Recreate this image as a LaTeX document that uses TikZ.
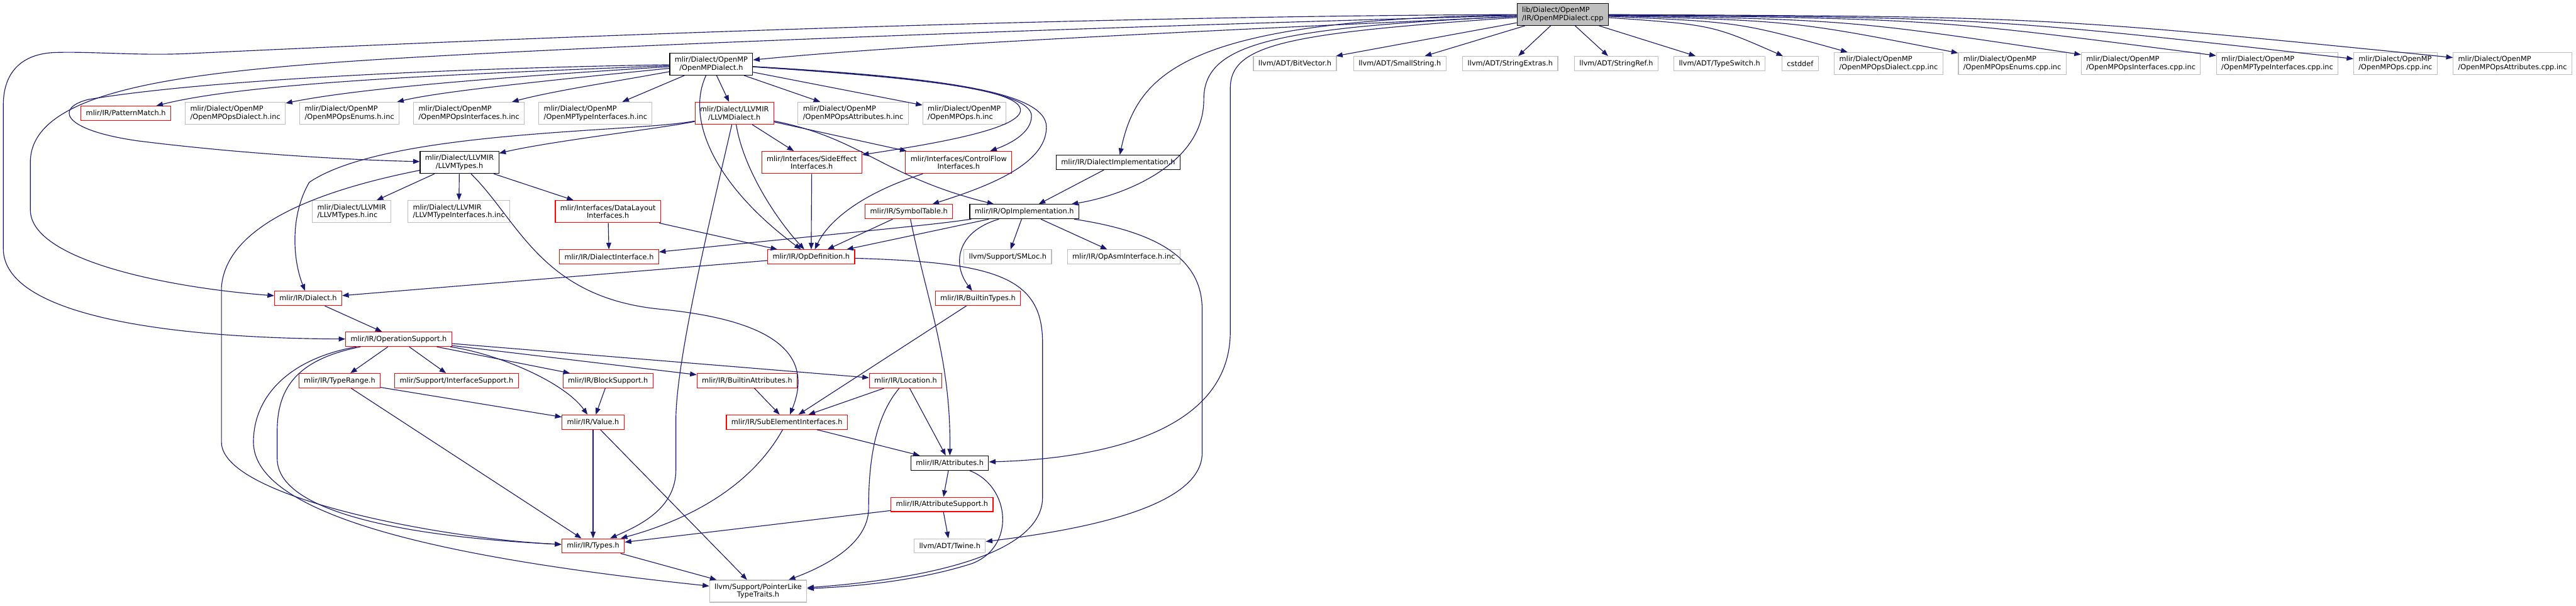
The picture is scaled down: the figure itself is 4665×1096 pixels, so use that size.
\documentclass[tikz,border=0pt]{standalone}
\usepackage{fontspec}
\newfontfamily\doxfont{DejaVu Sans}
\usetikzlibrary{arrows.meta, positioning}
\definecolor{edgeblue}{HTML}{191970}
\definecolor{extgray}{HTML}{BFBFBF}
\tikzset{
  hdr/.style={draw, fill=white, line width=1.3pt, inner xsep=9pt, inner ysep=0pt,
    minimum height=26pt, align=center, font={\doxfont\fontsize{12.9}{14.5}\selectfont}},
  tall/.style={minimum height=40pt},
  doc/.style={hdr, draw=black},
  trunc/.style={hdr, draw=red},
  ext/.style={hdr, draw=extgray},
  inc/.style={ext, tall, align=left},
  src/.style={hdr, tall, draw=black, fill=extgray, align=left},
  dep/.style={-{Triangle[length=12pt, width=9pt]}, draw=edgeblue, line width=1.3pt},
}

\begin{document}
\begin{tikzpicture}[x=1pt, y=-1pt, node distance=25pt]
  \useasboundingbox (0,0) rectangle (4665,1096);
  \node[src] (cpp) at (2830,26) {lib/Dialect/OpenMP\\/IR/OpenMPDialect.cpp};
  \node[doc, tall] (omph) at (1288,116) {mlir/Dialect/OpenMP\\/OpenMPDialect.h};
  \node[ext] (bitvec) at (2345,115) {llvm/ADT/BitVector.h};
  \node[ext] (smallstr) at (2535,115) {llvm/ADT/SmallString.h};
  \node[ext] (strext) at (2735,115) {llvm/ADT/StringExtras.h};
  \node[ext] (strref) at (2927,115) {llvm/ADT/StringRef.h};
  \node[ext] (typesw) at (3114,115) {llvm/ADT/TypeSwitch.h};
  \node[ext] (cstddef) at (3260,115) {cstddef};
  \node[inc] (dialcppinc) at (3420,115) {mlir/Dialect/OpenMP\\/OpenMPOpsDialect.cpp.inc};
  \node[inc] (enumcppinc) at (3644,115) {mlir/Dialect/OpenMP\\/OpenMPOpsEnums.cpp.inc};
  \node[inc] (ifacecppinc) at (3877,115) {mlir/Dialect/OpenMP\\/OpenMPOpsInterfaces.cpp.inc};
  \node[inc] (tyifcppinc) at (4124,115) {mlir/Dialect/OpenMP\\/OpenMPTypeInterfaces.cpp.inc};
  \node[inc] (opscppinc) at (4338,115) {mlir/Dialect/OpenMP\\/OpenMPOps.cpp.inc};
  \node[inc] (attrcppinc) at (4550,115) {mlir/Dialect/OpenMP\\/OpenMPOpsAttributes.cpp.inc};

  \node[trunc] (patmatch) at (228,205) {mlir/IR/PatternMatch.h};
  \node[inc, right=of patmatch] (dialhinc) {mlir/Dialect/OpenMP\\/OpenMPOpsDialect.h.inc};
  \node[inc, right=of dialhinc] (enumhinc) {mlir/Dialect/OpenMP\\/OpenMPOpsEnums.h.inc};
  \node[inc, right=of enumhinc] (ifacehinc) {mlir/Dialect/OpenMP\\/OpenMPOpsInterfaces.h.inc};
  \node[inc, right=of ifacehinc] (tyifhinc) {mlir/Dialect/OpenMP\\/OpenMPTypeInterfaces.h.inc};
  \node[trunc, tall] (llvmdial) at (1330,205) {mlir/Dialect/LLVMIR\\/LLVMDialect.h};
  \node[inc] (attrhinc) at (1545,205) {mlir/Dialect/OpenMP\\/OpenMPOpsAttributes.h.inc};
  \node[inc, right=of attrhinc] (opshinc) {mlir/Dialect/OpenMP\\/OpenMPOps.h.inc};

  \node[doc, tall] (llvmtypes) at (832,294) {mlir/Dialect/LLVMIR\\/LLVMTypes.h};
  \node[trunc, tall] (sideeff) at (1470,294) {mlir/Interfaces/SideEffect\\Interfaces.h};
  \node[trunc, tall] (ctrlflow) at (1736,294) {mlir/Interfaces/ControlFlow\\Interfaces.h};
  \node[doc] (dialimpl) at (2025,294) {mlir/IR/DialectImplementation.h};

  \node[inc] (llvmtypesinc) at (637,383) {mlir/Dialect/LLVMIR\\/LLVMTypes.h.inc};
  \node[inc] (llvmtyifinc) at (831,383) {mlir/Dialect/LLVMIR\\/LLVMTypeInterfaces.h.inc};
  \node[trunc, tall] (datalayout) at (1101,383) {mlir/Interfaces/DataLayout\\Interfaces.h};
  \node[trunc] (symtab) at (1646,383) {mlir/IR/SymbolTable.h};
  \node[doc] (opimpl) at (1855,383) {mlir/IR/OpImplementation.h};

  \node[trunc] (dialiface) at (1103,465) {mlir/IR/DialectInterface.h};
  \node[trunc] (opdef) at (1469,465) {mlir/IR/OpDefinition.h};
  \node[ext] (smloc) at (1825,465) {llvm/Support/SMLoc.h};
  \node[ext] (opasm) at (2035,465) {mlir/IR/OpAsmInterface.h.inc};

  \node[trunc] (dialect) at (558,540) {mlir/IR/Dialect.h};
  \node[trunc] (builtintypes) at (1771,540) {mlir/IR/BuiltinTypes.h};
  \node[trunc] (opsupport) at (722,614) {mlir/IR/OperationSupport.h};

  \node[trunc] (typerange) at (615,689) {mlir/IR/TypeRange.h};
  \node[trunc, right=of typerange] (ifacesupport) {mlir/Support/InterfaceSupport.h};
  \node[trunc] (blocksupport) at (1101,689) {mlir/IR/BlockSupport.h};
  \node[trunc] (builtinattrs) at (1353,689) {mlir/IR/BuiltinAttributes.h};
  \node[trunc] (location) at (1640,689) {mlir/IR/Location.h};

  \node[trunc] (value) at (1074,764) {mlir/IR/Value.h};
  \node[trunc] (subelem) at (1425,764) {mlir/IR/SubElementInterfaces.h};
  \node[doc] (attributes) at (1720,838) {mlir/IR/Attributes.h};
  \node[trunc] (attrsupport) at (1706,913) {mlir/IR/AttributeSupport.h};
  \node[trunc] (types) at (1074,988) {mlir/IR/Types.h};
  \node[ext] (twine) at (1720,988) {llvm/ADT/Twine.h};
  \node[ext, tall] (ptrlike) at (1373,1070) {llvm/Support/PointerLike\\TypeTraits.h};

  \draw[dep] (cpp) .. controls (2200,55) and (1650,80) .. (omph);
  \draw[dep] (cpp) -- (bitvec);
  \draw[dep] (cpp) -- (smallstr);
  \draw[dep] (cpp) -- (strext);
  \draw[dep] (cpp) -- (strref);
  \draw[dep] (cpp) -- (typesw);
  \draw[dep] (cpp) .. controls (3100,45) .. (cstddef);
  \draw[dep] (cpp) .. controls (3150,40) .. (dialcppinc);
  \draw[dep] (cpp) .. controls (3250,38) .. (enumcppinc);
  \draw[dep] (cpp) .. controls (3350,36) .. (ifacecppinc);
  \draw[dep] (cpp) .. controls (3500,34) .. (tyifcppinc);
  \draw[dep] (cpp) .. controls (3600,32) .. (opscppinc);
  \draw[dep] (cpp) .. controls (3700,30) .. (attrcppinc);
  \draw[dep] (cpp) .. controls (2150,35) and (2060,130) .. (dialimpl);
  \draw[dep] (cpp) .. controls (2300,50) and (2180,80) .. (2180,180) .. controls (2180,300) and (2030,355) .. (opimpl);
  \draw[dep] (cpp) .. controls (2330,60) and (2228,80) .. (2228,160) -- (2228,600) .. controls (2228,780) and (2000,830) .. (attributes);
  \draw[dep] (cpp) .. controls (1800,30) and (700,80) .. (340,97) .. controls (250,101) and (170,93) .. (100,95) .. controls (40,97) and (6,130) .. (6,190) -- (6,450) .. controls (6,570) and (300,612) .. (opsupport);
  \draw[dep] (cpp) .. controls (2000,48) and (1000,85) .. (620,112) .. controls (300,135) and (60,170) .. (55,290) -- (55,380) .. controls (55,470) and (300,520) .. (dialect);

  \draw[dep] (omph) .. controls (800,135) and (450,150) .. (patmatch);
  \draw[dep] (omph) .. controls (900,140) and (650,160) .. (dialhinc);
  \draw[dep] (omph) .. controls (1000,145) and (800,165) .. (enumhinc);
  \draw[dep] (omph) .. controls (1100,150) and (1000,165) .. (ifacehinc);
  \draw[dep] (omph) -- (tyifhinc);
  \draw[dep] (omph) -- (llvmdial);
  \draw[dep] (omph) -- (attrhinc);
  \draw[dep] (omph) -- (opshinc);
  \draw[dep] (omph) .. controls (900,122) and (400,140) .. (160,180) .. controls (100,195) and (110,235) .. (250,255) .. controls (450,280) and (650,290) .. (llvmtypes);
  \draw[dep] (omph) .. controls (1240,220) and (1300,340) .. (opdef);
  \draw[dep] (omph) .. controls (1650,140) and (1850,160) .. (1848,200) .. controls (1846,235) and (1680,262) .. (sideeff);
  \draw[dep] (omph) .. controls (1680,140) and (1868,165) .. (1868,210) .. controls (1868,240) and (1830,260) .. (ctrlflow);
  \draw[dep] (omph) .. controls (1700,140) and (1895,165) .. (1895,230) .. controls (1895,300) and (1780,340) .. (symtab);

  \draw[dep] (llvmdial) .. controls (1200,232) and (1000,255) .. (llvmtypes);
  \draw[dep] (llvmdial) .. controls (1150,240) and (700,235) .. (560,330) .. controls (525,390) and (530,470) .. (dialect);
  \draw[dep] (llvmdial) -- (sideeff);
  \draw[dep] (llvmdial) -- (ctrlflow);
  \draw[dep] (llvmdial) .. controls (1560,250) and (1600,320) .. (opimpl);
  \draw[dep] (llvmdial) .. controls (1345,300) and (1400,390) .. (opdef);
  \draw[dep] (llvmdial) .. controls (1290,380) and (1224,650) .. (1224,760) -- (1224,850) .. controls (1224,920) and (1160,950) .. (types);

  \draw[dep] (llvmtypes) -- (llvmtypesinc);
  \draw[dep] (llvmtypes) -- (llvmtyifinc);
  \draw[dep] (llvmtypes) -- (datalayout);
  \draw[dep] (llvmtypes) .. controls (600,340) and (410,400) .. (401,520) -- (401,800) .. controls (401,900) and (800,975) .. (types);
  \draw[dep] (llvmtypes) .. controls (940,400) and (980,540) .. (1200,560) .. controls (1400,580) and (1475,640) .. (subelem);

  \draw[dep] (datalayout) -- (dialiface);
  \draw[dep] (datalayout) -- (opdef);
  \draw[dep] (sideeff) -- (opdef);
  \draw[dep] (ctrlflow) .. controls (1560,350) and (1500,400) .. (opdef);
  \draw[dep] (symtab) -- (opdef);
  \draw[dep] (symtab) .. controls (1680,550) and (1722,650) .. (attributes);
  \draw[dep] (dialimpl) -- (opimpl);

  \draw[dep] (opimpl) .. controls (1700,405) .. (dialiface);
  \draw[dep] (opimpl) -- (opdef);
  \draw[dep] (opimpl) -- (smloc);
  \draw[dep] (opimpl) -- (opasm);
  \draw[dep] (opimpl) .. controls (1730,420) and (1725,480) .. (builtintypes);
  \draw[dep] (opimpl) .. controls (2100,420) and (2177,470) .. (2177,560) -- (2177,820) .. controls (2177,920) and (1950,960) .. (twine);

  \draw[dep] (opdef) -- (dialect);
  \draw[dep] (opdef) .. controls (1800,475) and (1888,500) .. (1888,620) -- (1888,900) .. controls (1888,1010) and (1650,1050) .. (ptrlike);
  \draw[dep] (dialect) -- (opsupport);
  \draw[dep] (builtintypes) -- (subelem);

  \draw[dep] (opsupport) -- (typerange);
  \draw[dep] (opsupport) -- (ifacesupport);
  \draw[dep] (opsupport) -- (blocksupport);
  \draw[dep] (opsupport) -- (builtinattrs);
  \draw[dep] (opsupport) -- (location);
  \draw[dep] (opsupport) .. controls (900,640) and (1020,690) .. (value);
  \draw[dep] (opsupport) .. controls (540,650) and (502,700) .. (502,780) -- (502,830) .. controls (502,940) and (800,975) .. (types);
  \draw[dep] (opsupport) .. controls (520,650) and (459,720) .. (459,800) .. controls (459,950) and (900,1020) .. (ptrlike);

  \draw[dep] (typerange) -- (value);
  \draw[dep] (typerange) -- (types);
  \draw[dep] (blocksupport) -- (value);
  \draw[dep] (builtinattrs) -- (subelem);
  \draw[dep] (location) -- (subelem);
  \draw[dep] (location) -- (attributes);
  \draw[dep] (location) .. controls (1580,760) and (1573,850) .. (1573,920) .. controls (1573,990) and (1480,1030) .. (ptrlike);
  \draw[dep] (value) -- (types);
  \draw[dep] (value) -- (ptrlike);
  \draw[dep] (subelem) .. controls (1360,880) and (1250,940) .. (types);
  \draw[dep] (subelem) -- (attributes);
  \draw[dep] (attributes) -- (attrsupport);
  \draw[dep] (attributes) .. controls (1830,880) and (1840,990) .. (1760,1020) .. controls (1650,1055) and (1530,1062) .. (ptrlike);
  \draw[dep] (attrsupport) -- (twine);
  \draw[dep] (attrsupport) -- (types);
  \draw[dep] (types) -- (ptrlike);
\end{tikzpicture}
\end{document}
